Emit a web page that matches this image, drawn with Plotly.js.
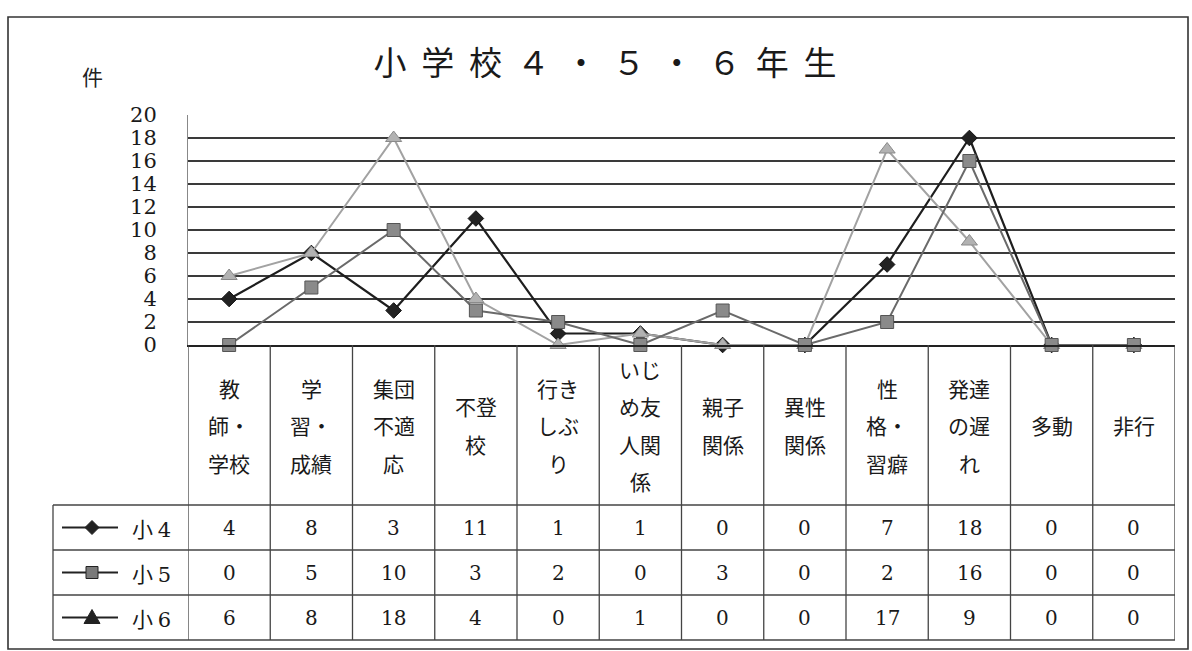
<!DOCTYPE html>
<html>
<head>
<meta charset="utf-8">
<script src="https://cdn.plot.ly/plotly-3.0.1.min.js"></script>
<style>html,body{margin:0;padding:0;background:#fff;}#chart{width:1192px;height:651px;}</style>
</head>
<body>
<div id="chart"></div>
<script>
// ---- data ----
const categories = ['教師・学校', '学習・成績', '集団不適応', '不登校', '行きしぶり', 'いじめ友人関係', '親子関係', '異性関係', '性格・習癖', '発達の遅れ', '多動', '非行'];
const categoryLabels = ['教<br>師・<br>学校', '学<br>習・<br>成績', '集団<br>不適<br>応', '不登<br>校', '行き<br>しぶ<br>り', 'いじ<br>め友<br>人関<br>係', '親子<br>関係', '異性<br>関係', '性<br>格・<br>習癖', '発達<br>の遅<br>れ', '多動', '非行'];
const seriesNames = ['小4', '小5', '小6'];
const sho4 = [4, 8, 3, 11, 1, 1, 0, 0, 7, 18, 0, 0];
const sho5 = [0, 5, 10, 3, 2, 0, 3, 0, 2, 16, 0, 0];
const sho6 = [6, 8, 18, 4, 0, 1, 0, 0, 17, 9, 0, 0];
const titleChars = ['小', '学', '校', '４', '・', '５', '・', '６', '年', '生'];
const unitLabel = '件';
const yTicks = [0, 2, 4, 6, 8, 10, 12, 14, 16, 18, 20];

// ---- geometry helpers (pixels -> paper) ----
const W = 1192, H = 651;
const px = x => x / W;
const py = y => 1 - y / H;
const plotLeft = 188, plotRight = 1175, plotTop = 115, plotBottom = 345;
const tableLeft = 53, rowTops = [505, 550, 595], rowH = 45, tableBottom = 640;
const headerCenter = (plotBottom + rowTops[0]) / 2, headerLineGap = 37.5;

const serif = 'DejaVu Serif, Liberation Serif, serif';
const cjk = 'Noto Sans CJK JP, Noto Sans, sans-serif';

const seriesData = [sho4, sho5, sho6];
const styles = [
  {line: '#1e1e1e', lw: 2.2, symbol: 'diamond', mcolor: '#222', medge: '#111', msize: 12, keyLine: '#222', keyMarker: '#222'},
  {line: '#6a6a6a', lw: 2, symbol: 'square', mcolor: '#8a8a8a', medge: '#555', msize: 13, keyLine: '#222', keyMarker: '#7a7a7a'},
  {line: '#a2a2a2', lw: 2, symbol: 'triangle-up', mcolor: '#b2b2b2', medge: '#8a8a8a', msize: 14, keyLine: '#222', keyMarker: '#222'}
];

const drawOrder = [0, 2, 1];
const traces = drawOrder.map(k => ({
  type: 'scatter', mode: 'lines+markers', name: seriesNames[k],
  x: categories, y: seriesData[k],
  line: {color: styles[k].line, width: styles[k].lw},
  marker: {symbol: styles[k].symbol, size: styles[k].msize, color: styles[k].mcolor, line: {color: styles[k].medge, width: 1}},
  cliponaxis: false, showlegend: false, hoverinfo: 'x+y'
}));

const shapes = [];
const annotations = [];
const gridColor = '#3a3a3a';

// outer frame
shapes.push({type: 'rect', xref: 'paper', yref: 'paper', x0: px(8), x1: px(1188), y0: py(649), y1: py(17), line: {color: '#333', width: 1.6}});

// vertical column separators (category boundaries) through the table
for (let i = 0; i <= categories.length; i++) {
  shapes.push({type: 'line', xref: 'x', yref: 'paper', x0: i - 0.5, x1: i - 0.5, y0: py(plotBottom), y1: py(tableBottom), line: {color: '#444', width: 1.3}});
}
// horizontal table lines
[...rowTops, tableBottom].forEach(y => {
  shapes.push({type: 'line', xref: 'paper', yref: 'paper', x0: px(tableLeft), x1: px(plotRight), y0: py(y), y1: py(y), line: {color: '#444', width: 1.3}});
});
// legend column left edge
shapes.push({type: 'line', xref: 'paper', yref: 'paper', x0: px(tableLeft), x1: px(tableLeft), y0: py(rowTops[0]), y1: py(tableBottom), line: {color: '#444', width: 1.3}});

// header labels (multi-line, spaced)
categoryLabels.forEach((lab, i) => {
  const lines = lab.split('<br>');
  lines.forEach((ln, k) => {
    const yc = headerCenter + (k - (lines.length - 1) / 2) * headerLineGap;
    annotations.push({xref: 'x', yref: 'paper', x: categories[i], y: py(yc), text: ln, showarrow: false,
      xanchor: 'center', yanchor: 'middle', font: {family: cjk, size: 21, color: '#1a1a1a'}});
  });
});

// table values + legend keys
seriesData.forEach((vals, s) => {
  const yc = rowTops[s] + rowH / 2;
  vals.forEach((v, i) => {
    annotations.push({xref: 'x', yref: 'paper', x: categories[i], y: py(yc), text: String(v), showarrow: false,
      xanchor: 'center', yanchor: 'middle', font: {family: serif, size: 20, color: '#1a1a1a'}});
  });
  shapes.push({type: 'line', xref: 'paper', yref: 'paper', x0: px(62), x1: px(118), y0: py(yc), y1: py(yc), line: {color: styles[s].keyLine, width: 2}});
  const cx = 92, r = 7;
  let path;
  if (styles[s].symbol === 'diamond') {
    path = `M ${px(cx - r)} ${py(yc)} L ${px(cx)} ${py(yc - r)} L ${px(cx + r)} ${py(yc)} L ${px(cx)} ${py(yc + r)} Z`;
  } else if (styles[s].symbol === 'square') {
    path = `M ${px(cx - 6)} ${py(yc - 6)} L ${px(cx + 6)} ${py(yc - 6)} L ${px(cx + 6)} ${py(yc + 6)} L ${px(cx - 6)} ${py(yc + 6)} Z`;
  } else {
    path = `M ${px(cx - 8)} ${py(yc + 6)} L ${px(cx)} ${py(yc - 8)} L ${px(cx + 8)} ${py(yc + 6)} Z`;
  }
  shapes.push({type: 'path', xref: 'paper', yref: 'paper', path: path, fillcolor: styles[s].keyMarker, line: {color: '#222', width: 1}});
  annotations.push({xref: 'paper', yref: 'paper', x: px(151), y: py(yc), showarrow: false, xanchor: 'center', yanchor: 'middle',
    text: seriesNames[s].replace(/(\d)/, '\u00a0<span style="font-family:DejaVu Serif">$1</span>'),
    font: {family: cjk, size: 21, color: '#1a1a1a'}});
});

// unit label
annotations.push({xref: 'paper', yref: 'paper', x: px(92), y: py(76), text: unitLabel, showarrow: false,
  xanchor: 'center', yanchor: 'middle', font: {family: cjk, size: 21, color: '#222'}});

const layout = {
  width: W, height: H,
  margin: {l: 0, r: 0, t: 0, b: 0},
  paper_bgcolor: '#fff', plot_bgcolor: '#fff',
  title: {text: titleChars.join('\u00a0\u00a0'), x: px(605), xanchor: 'center', y: py(63), yanchor: 'middle', yref: 'container', xref: 'container',
    font: {family: cjk, size: 33, color: '#1a1a1a'}},
  xaxis: {domain: [px(plotLeft), px(plotRight)], type: 'category', range: [-0.5, 11.5],
    showticklabels: false, ticks: '', showgrid: false, zeroline: false,
    showline: true, linecolor: '#222', linewidth: 1.8, fixedrange: true},
  yaxis: {domain: [py(plotBottom), py(plotTop)], range: [0, 20], tickvals: yTicks, ticktext: yTicks.map(String),
    showgrid: true, gridcolor: gridColor, gridwidth: 1.5, zeroline: false,
    showline: true, linecolor: '#888', linewidth: 1,
    ticks: '', ticklabelstandoff: 26,
    tickfont: {family: serif, size: 21, color: '#1a1a1a'}, fixedrange: true},
  shapes: shapes,
  annotations: annotations,
  showlegend: false
};

Plotly.newPlot('chart', traces, layout, {displayModeBar: false, staticPlot: true});
</script>
</body>
</html>
